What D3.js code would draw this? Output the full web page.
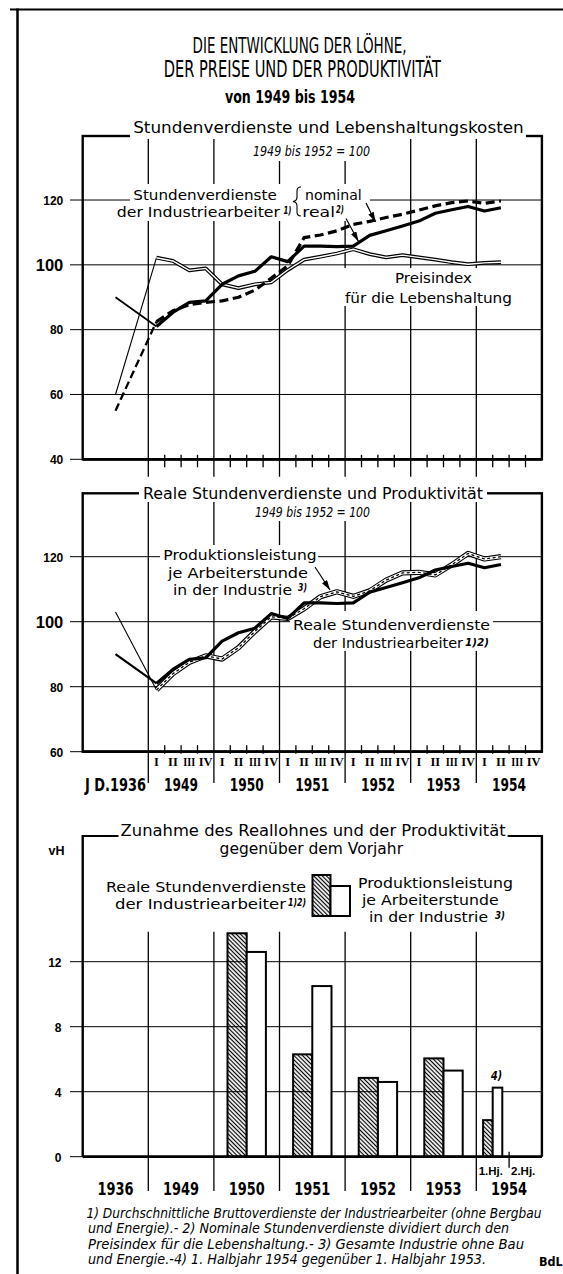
<!DOCTYPE html>
<html>
<head>
<meta charset="utf-8">
<script src="https://cdn.jsdelivr.net/npm/d3@7"></script>
<style>
body { margin: 0; background: #fff; }
svg { display: block; }
</style>
</head>
<body>
<svg id="chart"></svg>
<script>
var W = 563, H = 1274;

// ---- data ----
var years = ["1936", "1949", "1950", "1951", "1952", "1953", "1954"];
var quarters = ["I", "II", "III", "IV"];

// quarterly values 1949 I ... 1954 II, 1949 bis 1952 = 100
var nominal1936 = 55;
var nominal = [82.5, 85.8, 87.7, 88.4, 88.9, 90, 92.2, 95.9, 99.7, 108.4, 109.2, 110.5,
               112.5, 113.4, 114.6, 115.6, 116.9, 118.2, 119.2, 119.7, 119, 119.7];
var real1936 = 90;
var real = [81, 85.3, 88.4, 88.9, 94, 96.6, 98, 102.5, 101, 105.8, 105.8, 105.6,
            105.8, 109.1, 110.5, 112, 113.5, 115.9, 117, 118, 116.6, 117.6];
var price1936 = 60;
var price = [102.2, 101.2, 98.3, 98.9, 94, 92.8, 94, 94.6, 98.4, 101.6, 102.5, 103.5,
             104.8, 103.3, 102.3, 103, 102.3, 101.6, 100.8, 100.2, 100.6, 100.8];
var prod1936 = 103;
var productivity = [79, 84, 87.5, 89.5, 88.5, 92, 97, 101.5, 101, 104, 107.7, 109.2,
                    107.8, 109.5, 112.8, 115, 115.2, 114.4, 117.5, 121, 119.3, 120];

// Zunahme gegenueber dem Vorjahr (vH); 1954 = 1. Halbjahr
var barYears = ["1950", "1951", "1952", "1953", "1954"];
var realGrowth = [13.75, 6.3, 4.85, 6.05, 2.25];
var prodGrowth = [12.6, 10.5, 4.6, 5.3, 4.25];

var ticks1 = [40, 60, 80, 100, 120];
var ticks2 = [60, 80, 100, 120];
var ticks3 = [0, 4, 8, 12];

var footnotes = [
  "1) Durchschnittliche Bruttoverdienste der Industriearbeiter (ohne Bergbau",
  "und Energie).- 2) Nominale Stundenverdienste dividiert durch den",
  "Preisindex für die Lebenshaltung.- 3) Gesamte Industrie ohne Bau",
  "und  Energie.-4) 1. Halbjahr 1954 gegenüber 1. Halbjahr 1953."
];

// ---- setup ----
var svg = d3.select("#chart").attr("width", W).attr("height", H);
svg.append("rect").attr("width", W).attr("height", H).attr("fill", "#fff");

var NARROW = "'Liberation Sans Narrow', 'DejaVu Sans Condensed', sans-serif";
var LABEL = "'DejaVu Sans', sans-serif";

var defs = svg.append("defs");
defs.append("pattern")
    .attr("id", "hatch")
    .attr("patternUnits", "userSpaceOnUse")
    .attr("width", 3).attr("height", 3)
    .attr("patternTransform", "rotate(-45)")
    .append("line")
    .attr("x1", 1.5).attr("y1", 0).attr("x2", 1.5).attr("y2", 3)
    .attr("stroke", "#000").attr("stroke-width", 1.2);
defs.append("marker")
    .attr("id", "arr")
    .attr("markerUnits", "userSpaceOnUse")
    .attr("markerWidth", 10).attr("markerHeight", 6)
    .attr("refX", 10).attr("refY", 3)
    .attr("orient", "auto")
    .append("path").attr("d", "M0,0 L10,3 L0,6 Z").attr("fill", "#000");

var xCol = d3.scaleLinear().domain([0, 7]).range([82.7, 541.9]);
var xBand = d3.scaleBand().domain(years).range([82.7, 541.9]);
var bw = xBand.bandwidth();
var xQ = function(i) { return xCol(1 + (i + 0.5) / 4); };
var x1936 = xBand("1936") + bw / 2;

var y1 = d3.scaleLinear().domain([40, 140]).range([459.3, 135.2]);
var y2 = d3.scaleLinear().domain([60, 140]).range([751.7, 491.7]);
var y3 = d3.scaleLinear().domain([0, 20]).range([1156.7, 831.7]);

var txt = function(g, x, y, s, o)
{
    o = o || {};
    var t = g.append("text")
        .attr("x", x).attr("y", y)
        .attr("font-family", o.font || LABEL)
        .attr("font-size", o.size || 14.5)
        .attr("font-weight", o.weight || "normal")
        .attr("font-style", o.style || "normal")
        .attr("text-anchor", o.anchor || "start")
        .attr("fill", "#000")
        .text(s);
    if (o.len) t.attr("textLength", o.len).attr("lengthAdjust", "spacingAndGlyphs");
    return t;
}

var hline = function(g, x1, x2, y, w)
{
    g.append("line").attr("x1", x1).attr("x2", x2).attr("y1", y).attr("y2", y)
        .attr("stroke", "#000").attr("stroke-width", w);
}

var knock = function(g, x, y, w, h)
{
    g.append("rect").attr("x", x).attr("y", y).attr("width", w).attr("height", h).attr("fill", "#fff");
}

var path = function(g, data, y, w, dash, col)
{
    var line = d3.line().x(function(d) { return d[0]; }).y(function(d) { return y(d[1]); });
    var p = g.append("path").datum(data)
        .attr("d", line)
        .attr("fill", "none")
        .attr("stroke", col || "#000")
        .attr("stroke-width", w)
        .attr("stroke-linejoin", "round");
    if (dash) p.attr("stroke-dasharray", dash);
    return p;
}

var quarterPts = function(arr) { return arr.map(function(v, i) { return [xQ(i), v]; }); };

var yLabels = function(g, y, values, xRight)
{
    var ax = g.append("g")
        .attr("transform", "translate(" + xRight + ",0)")
        .call(d3.axisLeft(y).tickValues(values).tickSize(0).tickPadding(0));
    ax.select(".domain").remove();
    ax.selectAll("text")
        .attr("font-family", "'Liberation Sans', Arial, sans-serif")
        .attr("font-weight", "bold")
        .attr("font-size", function(d) { return d == 100 ? 16.5 : 12; })
        .attr("dy", "0.36em")
        .attr("fill", "#000");
}

// outer frame
hline(svg, 10, W, 9.5, 2);
svg.append("line").attr("x1", 17.5).attr("x2", 17.5).attr("y1", 8.5).attr("y2", H)
    .attr("stroke", "#000").attr("stroke-width", 2.5);

// headline
txt(svg, 192.6, 52.7, "DIE ENTWICKLUNG DER LÖHNE,", {font: NARROW, size: 22, len: 214});
txt(svg, 163.8, 76.7, "DER PREISE UND DER PRODUKTIVITÄT", {font: NARROW, size: 22.5, len: 277});
txt(svg, 225, 103.3, "von 1949 bis 1954", {font: NARROW, size: 17.5, weight: "bold", len: 130});

//
// PANEL 1: Stundenverdienste und Lebenshaltungskosten
//
var p1 = svg.append("g");
var top1 = 136, bot1 = y1(40);

p1.selectAll(".hg").data(ticks1).enter().append("line")
    .attr("x1", 70).attr("x2", 541.9)
    .attr("y1", function(d) { return y1(d); }).attr("y2", function(d) { return y1(d); })
    .attr("stroke", "#000").attr("stroke-width", 1);
p1.selectAll(".vg").data(d3.range(1, 7)).enter().append("line")
    .attr("x1", function(d) { return xCol(d); }).attr("x2", function(d) { return xCol(d); })
    .attr("y1", top1).attr("y2", 476.7)
    .attr("stroke", "#000").attr("stroke-width", 1.3);
p1.append("rect").attr("x", 82.7).attr("y", top1).attr("width", 459.2).attr("height", bot1 - top1)
    .attr("fill", "none").attr("stroke", "#000").attr("stroke-width", 2.4);
hline(p1, 82.7, 541.9, bot1, 2.8);

// quarter ticks
var qTicks = [];
d3.range(1, 7).forEach(function(k) { [1, 2, 3].forEach(function(q) { qTicks.push(k + q / 4); }); });
p1.selectAll(".qt").data(qTicks).enter().append("line")
    .attr("x1", function(d) { return xCol(d); }).attr("x2", function(d) { return xCol(d); })
    .attr("y1", bot1 - 4.5).attr("y2", bot1 + 8)
    .attr("stroke", "#000").attr("stroke-width", 1.3);

// knockouts behind texts
knock(p1, 130, 121, 396, 18);
knock(p1, 245, 139, 130, 22);
knock(p1, 130, 184, 240, 20);
knock(p1, 113, 204, 237, 17);
knock(p1, 340, 268, 175, 38);

// series
path(p1, [[x1936, price1936], [xQ(0), price[0]]], y1, 1.1);
path(p1, quarterPts(price), y1, 3.8);
path(p1, quarterPts(price), y1, 1.4, null, "#fff");
path(p1, [[x1936, nominal1936], [xQ(0), nominal[0]]], y1, 2.3, "8,4");
path(p1, quarterPts(nominal), y1, 3.2, "9,4.5");
path(p1, [[x1936, real1936], [xQ(0), real[0]]], y1, 1.8);
path(p1, quarterPts(real), y1, 3.2);

yLabels(p1, y1, ticks1, 63.3);

txt(p1, 133.2, 133.3, "Stundenverdienste und Lebenshaltungskosten", {size: 16.5, len: 390.6});
txt(p1, 253, 156, "1949 bis 1952 = 100", {font: NARROW, size: 13.5, style: "italic", len: 117});

txt(p1, 133.3, 200, "Stundenverdienste", {len: 143.4});
txt(p1, 116.7, 216.5, "der Industriearbeiter", {len: 163.3});
txt(p1, 283.5, 214, "1)", {font: NARROW, size: 11, style: "italic", weight: "bold", len: 8});
p1.append("path")
    .attr("d", "M301,187 q-4,0 -4,4 v6 q0,4 -4,4.5 q4,0.5 4,4.5 v6 q0,4 4,4")
    .attr("fill", "none").attr("stroke", "#000").attr("stroke-width", 1.1);
txt(p1, 305, 200, "nominal", {len: 56.7});
txt(p1, 302.3, 216.5, "real", {len: 32.7});
txt(p1, 336, 212.5, "2)", {font: NARROW, size: 10, style: "italic", weight: "bold", len: 8});
txt(p1, 395, 283.3, "Preisindex", {len: 77});
txt(p1, 345, 302.5, "für die Lebenshaltung", {len: 167});

p1.append("line").attr("x1", 366).attr("y1", 203).attr("x2", 375.5).attr("y2", 222)
    .attr("stroke", "#000").attr("stroke-width", 1.2).attr("marker-end", "url(#arr)");
p1.append("line").attr("x1", 346).attr("y1", 218.5).attr("x2", 358.5).attr("y2", 241.5)
    .attr("stroke", "#000").attr("stroke-width", 1.2).attr("marker-end", "url(#arr)");

//
// PANEL 2: Reale Stundenverdienste und Produktivitaet
//
var p2 = svg.append("g");
var top2 = 493.3, bot2 = y2(60);

p2.selectAll(".hg").data(ticks2).enter().append("line")
    .attr("x1", 70).attr("x2", 541.9)
    .attr("y1", function(d) { return y2(d); }).attr("y2", function(d) { return y2(d); })
    .attr("stroke", "#000").attr("stroke-width", 1);
p2.selectAll(".vg").data(d3.range(1, 7)).enter().append("line")
    .attr("x1", function(d) { return xCol(d); }).attr("x2", function(d) { return xCol(d); })
    .attr("y1", top2).attr("y2", 783)
    .attr("stroke", "#000").attr("stroke-width", 1.3);
p2.append("rect").attr("x", 82.7).attr("y", top2).attr("width", 459.2).attr("height", bot2 - top2)
    .attr("fill", "none").attr("stroke", "#000").attr("stroke-width", 2.4);
hline(p2, 82.7, 541.9, bot2, 2.8);
p2.selectAll(".qt").data(qTicks).enter().append("line")
    .attr("x1", function(d) { return xCol(d); }).attr("x2", function(d) { return xCol(d); })
    .attr("y1", bot2 - 6.5).attr("y2", bot2 + 2)
    .attr("stroke", "#000").attr("stroke-width", 1.3);

knock(p2, 139, 484, 348, 18);
knock(p2, 250, 502, 125, 19);
knock(p2, 160, 545, 158, 52);
knock(p2, 290, 611, 203, 40);

path(p2, [[x1936, prod1936], [xQ(0), productivity[0]]], y2, 1.1);
path(p2, quarterPts(productivity), y2, 5.2);
path(p2, quarterPts(productivity), y2, 3, null, "#fff");
path(p2, quarterPts(productivity), y2, 1.3, "3,2.5");
path(p2, [[x1936, real1936], [xQ(0), real[0]]], y2, 2.2);
path(p2, quarterPts(real), y2, 3.2);

yLabels(p2, y2, ticks2, 63.3);

// roman numerals for the quarters
var qLabels = [];
d3.range(0, 24).forEach(function(i) { qLabels.push({i: i, s: quarters[i % 4]}); });
p2.selectAll(".ql").data(qLabels).enter().append("text")
    .attr("x", function(d) { return xQ(d.i); })
    .attr("y", 766)
    .attr("text-anchor", "middle")
    .attr("font-family", "'Liberation Serif', 'DejaVu Serif', serif")
    .attr("font-weight", "bold")
    .attr("font-size", 12.5)
    .attr("fill", "#000")
    .each(function(d) {
        if (d.s.length > 2) d3.select(this).attr("textLength", 12).attr("lengthAdjust", "spacingAndGlyphs");
    })
    .text(function(d) { return d.s; });

var xa2 = p2.append("g").attr("transform", "translate(0," + bot2 + ")")
    .call(d3.axisBottom(xBand).tickSize(0).tickFormat(function(d) { return d == "1936" ? "J D.1936" : d; }));
xa2.select(".domain").remove();
xa2.selectAll("text")
    .attr("y", 39).attr("dy", 0)
    .attr("font-family", NARROW).attr("font-weight", "bold").attr("font-size", 17.5)
    .attr("textLength", function(d) { return d == "1936" ? 61 : 34; })
    .attr("lengthAdjust", "spacingAndGlyphs")
    .attr("fill", "#000");

txt(p2, 143, 499, "Reale Stundenverdienste und Produktivität", {size: 16, len: 340});
txt(p2, 255, 516.5, "1949 bis 1952 = 100", {font: NARROW, size: 13.5, style: "italic", len: 115});
txt(p2, 163.3, 559.5, "Produktionsleistung", {len: 153.4});
txt(p2, 168, 577.5, "je Arbeiterstunde", {len: 140});
txt(p2, 173, 594.5, "in der Industrie", {len: 119});
txt(p2, 298, 591, "3)", {font: NARROW, size: 10.5, style: "italic", weight: "bold", len: 9});
txt(p2, 293, 629.5, "Reale Stundenverdienste", {len: 197});
txt(p2, 313, 648, "der Industriearbeiter", {len: 150});
txt(p2, 465, 646, "1)2)", {font: NARROW, size: 11, style: "italic", weight: "bold", len: 24});
p2.append("line").attr("x1", 315).attr("y1", 567).attr("x2", 330).attr("y2", 590)
    .attr("stroke", "#000").attr("stroke-width", 1.2).attr("marker-end", "url(#arr)");

//
// PANEL 3: Zunahme des Reallohnes und der Produktivitaet
//
var p3 = svg.append("g");
var top3 = 836, bot3 = y3(0);

p3.selectAll(".hg").data(ticks3).enter().append("line")
    .attr("x1", 70).attr("x2", 541.9)
    .attr("y1", function(d) { return y3(d); }).attr("y2", function(d) { return y3(d); })
    .attr("stroke", "#000").attr("stroke-width", 1);
p3.selectAll(".vg").data(d3.range(1, 7)).enter().append("line")
    .attr("x1", function(d) { return xCol(d); }).attr("x2", function(d) { return xCol(d); })
    .attr("y1", 931.7).attr("y2", 1191)
    .attr("stroke", "#000").attr("stroke-width", 1.3);
p3.append("line").attr("x1", 82.7).attr("x2", 82.7).attr("y1", top3 - 1).attr("y2", bot3)
    .attr("stroke", "#000").attr("stroke-width", 2.4);
p3.append("line").attr("x1", 541.9).attr("x2", 541.9).attr("y1", top3 - 1).attr("y2", bot3)
    .attr("stroke", "#000").attr("stroke-width", 2.4);
hline(p3, 82.7, 118.5, top3, 2.2);
hline(p3, 507.6, 541.9, top3, 2.2);

// bars
var barX = function(d, i, which)
{
    var half = d == "1954";
    var c = half ? xCol(6.25) : xBand(d) + bw / 2;
    var w = half ? 9.6 : 19.2;
    return which == 0 ? c - w : c;
}
var barW = function(d) { return d == "1954" ? 9.6 : 19.2; };

p3.selectAll(".br").data(barYears).enter().append("rect")
    .attr("x", function(d, i) { return barX(d, i, 0); })
    .attr("y", function(d, i) { return y3(realGrowth[i]); })
    .attr("width", barW)
    .attr("height", function(d, i) { return bot3 - y3(realGrowth[i]); })
    .attr("fill", "url(#hatch)").attr("stroke", "#000").attr("stroke-width", 2);
p3.selectAll(".bp").data(barYears).enter().append("rect")
    .attr("x", function(d, i) { return barX(d, i, 1); })
    .attr("y", function(d, i) { return y3(prodGrowth[i]); })
    .attr("width", barW)
    .attr("height", function(d, i) { return bot3 - y3(prodGrowth[i]); })
    .attr("fill", "#fff").attr("stroke", "#000").attr("stroke-width", 2);

hline(p3, 82.7, 541.9, bot3, 2.8);
p3.append("line").attr("x1", xCol(6.5)).attr("x2", xCol(6.5)).attr("y1", bot3 - 5).attr("y2", bot3 + 11)
    .attr("stroke", "#000").attr("stroke-width", 1.3);

yLabels(p3, y3, ticks3, 61.5);
txt(p3, 48.6, 855, "vH", {font: "'Liberation Sans', Arial, sans-serif", size: 12.5, weight: "bold"});

var xa3 = p3.append("g").attr("transform", "translate(0," + bot3 + ")")
    .call(d3.axisBottom(xBand).tickSize(0));
xa3.select(".domain").remove();
xa3.selectAll("text")
    .attr("y", 38.3).attr("dy", 0)
    .attr("font-family", NARROW).attr("font-weight", "bold").attr("font-size", 18.5)
    .attr("textLength", 36).attr("lengthAdjust", "spacingAndGlyphs")
    .attr("fill", "#000");

txt(p3, 503, 1175, "1.Hj.", {font: "'Liberation Sans', Arial, sans-serif", size: 11.5, weight: "bold", anchor: "end"});
txt(p3, 511, 1175, "2.Hj.", {font: "'Liberation Sans', Arial, sans-serif", size: 11.5, weight: "bold"});
txt(p3, 491, 1080, "4)", {font: NARROW, size: 12, style: "italic", weight: "bold", len: 11});

txt(p3, 120.6, 836, "Zunahme des Reallohnes und der Produktivität", {size: 16, len: 385});
txt(p3, 219.6, 853.5, "gegenüber dem Vorjahr", {size: 16, len: 183.4});

// legend
p3.append("rect").attr("x", 312.5).attr("y", 875).attr("width", 18).attr("height", 41)
    .attr("fill", "url(#hatch)").attr("stroke", "#000").attr("stroke-width", 2);
p3.append("rect").attr("x", 330.5).attr("y", 886).attr("width", 19.5).attr("height", 30)
    .attr("fill", "#fff").attr("stroke", "#000").attr("stroke-width", 2);
txt(p3, 106, 891.5, "Reale Stundenverdienste", {len: 200});
txt(p3, 115, 909, "der Industriearbeiter", {len: 171});
txt(p3, 288, 906, "1)2)", {font: NARROW, size: 11, style: "italic", weight: "bold", len: 18});
txt(p3, 358, 888, "Produktionsleistung", {len: 155});
txt(p3, 362, 905, "je Arbeiterstunde", {len: 136.6});
txt(p3, 369, 922, "in der Industrie", {len: 119});
txt(p3, 495, 919, "3)", {font: NARROW, size: 10.5, style: "italic", weight: "bold", len: 10});

// footnotes
var fnX = [86.4, 88, 88, 88];
var fnY = [1217.5, 1233, 1248.5, 1264];
var fnLen = [455, 421, 436, 398];
footnotes.forEach(function(s, i)
{
    txt(svg, fnX[i], fnY[i], s, {font: NARROW, size: 13.5, style: "italic", len: fnLen[i]});
});
txt(svg, 539, 1266, "BdL", {font: NARROW, size: 12.5, weight: "bold"});
</script>
</body>
</html>
